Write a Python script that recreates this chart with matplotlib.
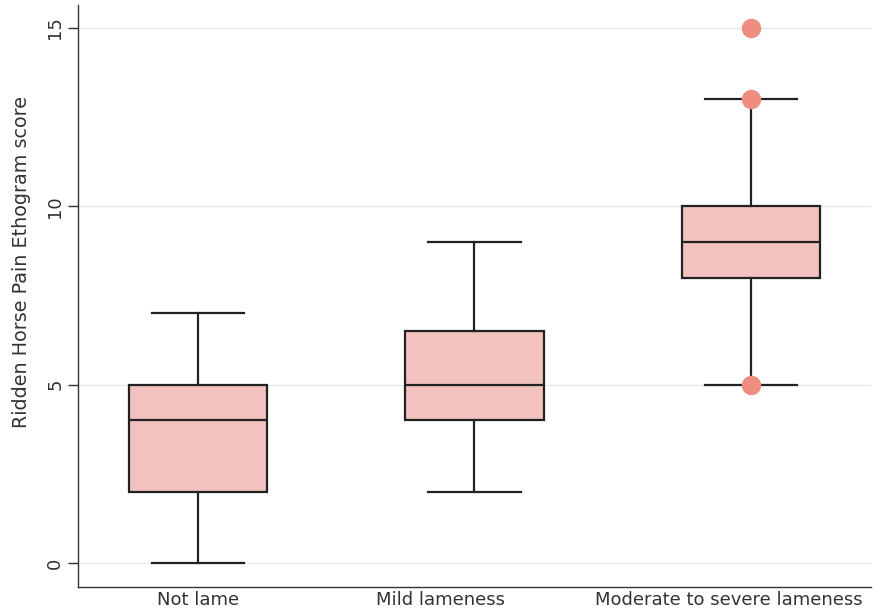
import matplotlib
matplotlib.use("Agg")
import matplotlib.pyplot as plt
import matplotlib.transforms as mtransforms

categories = ["Not lame", "Mild lameness", "Moderate to severe lameness"]
whislo = [0, 2, 5]
q1 = [2, 4, 8]
med = [4, 5, 9]
q3 = [5, 6.5, 10]
whishi = [7, 9, 13]
fliers = [[], [], [5, 13, 15]]
yticks = [0, 5, 10, 15]

plt.rcParams['font.family'] = ['DejaVu Sans']

fig = plt.figure(figsize=(8.79, 6.13), dpi=100)
ax = fig.add_axes([78/879, 1-587/613, (871-78)/879, (587-5)/613])

stats = []
for i, c in enumerate(categories):
    stats.append(dict(label=c, whislo=whislo[i], q1=q1[i], med=med[i], q3=q3[i],
                      whishi=whishi[i], fliers=fliers[i]))

lc = "#222222"
ax.bxp(stats, positions=[1, 2, 3], widths=0.5, patch_artist=True,
       boxprops=dict(facecolor="#F2C2BE", edgecolor=lc, linewidth=1.6),
       medianprops=dict(color=lc, linewidth=1.6),
       whiskerprops=dict(color=lc, linewidth=1.6),
       capprops=dict(color=lc, linewidth=1.6),
       capwidths=0.333,
       flierprops=dict(marker='o', markersize=13, markerfacecolor="#EE8D80",
                       markeredgecolor="#EE8D80", linestyle='none'),
       zorder=3)

ax.set_xlim(0.566, 3.434)
ax.set_ylim(-0.67, 15.64)
ax.set_yticks(yticks)
ax.set_yticklabels([str(t) for t in yticks], rotation=90, va='center', fontsize=13, color="#333333")
ax.set_xticks([1, 2, 3])
ax.set_xticklabels(categories, fontsize=13, color="#333333")
ax.tick_params(axis='x', length=0, pad=3)
ax.tick_params(axis='y', length=7, width=1, color="#333333", pad=3)
# label offsets as in reference (pixels)
offsets = [0, -33.5, -22]
for lab, dx in zip(ax.get_xticklabels(), offsets):
    lab.set_transform(lab.get_transform() + mtransforms.ScaledTranslation(dx/100, 0, fig.dpi_scale_trans))
ax.grid(axis='y', color="#E8E8E8", linewidth=1, zorder=0)
ax.set_axisbelow(True)
ax.set_ylabel("Ridden Horse Pain Ethogram score", fontsize=13.8, color="#333333")
ax.yaxis.set_label_coords(-0.059, 0.558)
for s in ['top', 'right']:
    ax.spines[s].set_visible(False)
for s in ['left', 'bottom']:
    ax.spines[s].set_color("#333333")
    ax.spines[s].set_linewidth(1)

fig.savefig("out.png", dpi=100)
